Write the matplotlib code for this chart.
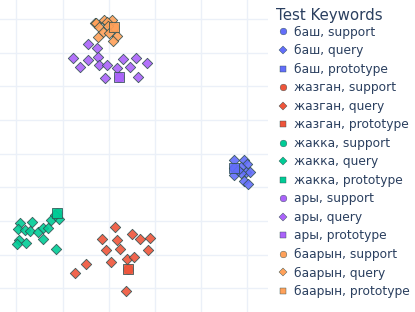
import matplotlib.pyplot as plt
from matplotlib.lines import Line2D

# keywords and plotly colours
keywords = ["баш", "жазган", "жакка", "ары", "баарын"]
colors = ["#636EFA", "#EF553B", "#00CC96", "#AB63FA", "#FFA15A"]

# query embeddings (2d projection), one list per keyword
qx = [
    [27.12, 29.29, 30.0, 27.12, 28.57, 29.72, 30.58, 27.19, 28.70, 29.29, 30.22, 28.05],
    [1.36, -1.39, 1.73, 5.11, 6.84, 8.94, -0.58, 2.51, 8.57, 0.50, 3.90, 5.48, -4.85, -7.29, 3.68],
    [-19.20, -16.67, -19.57, -18.12, -17.03, -15.24, -14.16, -13.20, -12.49, -10.76, -14.29,
     -19.42, -19.78, -17.97, -11.47, -11.62],
    [-4.42, -2.60, -7.66, -4.48, -2.38, -2.16, -0.43, -6.15, 3.03, 5.84, 8.29, 1.73, 4.61,
     -0.87, 6.28],
    [-2.97, -2.75, -1.02, 0.65, -0.43, -2.03, -0.22, -1.30, 0.13, -2.38, 1.73, 1.00],
]
qy = [
    [-1.96, -1.96, -3.07, -4.17, -3.87, -5.54, -5.54, -6.34, -5.83, -8.13, -9.11, -4.85],
    [-21.82, -25.30, -25.60, -23.90, -25.48, -25.00, -28.66, -28.27, -28.66, -32.23, -31.43,
     -30.83, -32.83, -35.42, -40.95],
    [-20.71, -20.24, -22.41, -22.71, -22.92, -23.39, -22.02, -22.20, -19.73, -19.43, -25.39,
     -25.68, -26.96, -26.49, -28.36, -18.24],
    [32.6, 31.5, 28.6, 27.9, 28.7, 26.3, 26.5, 25.8, 28.2, 28.6, 27.0, 25.6, 25.8, 22.5, 22.8],
    [39.0, 38.8, 39.8, 39.8, 39.3, 37.8, 38.0, 36.3, 35.8, 34.8, 35.0, 33.5],
]
# support points (1-shot) and prototypes
sx = [27.19, 4.24, -11.26, 2.29, 1.21]
sy = [-4.17, -34.32, -17.74, 22.9, 37.8]
px = [27.19, 4.24, -11.26, 2.29, 1.21]
py = [-4.17, -34.32, -17.74, 22.9, 37.8]

W, H = 415, 312
fig = plt.figure(figsize=(W / 100, H / 100), dpi=100)
ax = fig.add_axes([0, 0, 268 / W, 1])
edge = "#2F4F4F"
handles = []
for i, kw in enumerate(keywords):
    c = colors[i]
    ax.scatter([sx[i]], [sy[i]], marker="o", s=40, c=c, edgecolors=edge, linewidths=0.6,
               alpha=0.9, zorder=3)
    ax.scatter(qx[i], qy[i], marker="D", s=28, c=c, edgecolors=edge, linewidths=0.6,
               alpha=0.9, zorder=3)
    ax.scatter([px[i]], [py[i]], marker="s", s=45, c=c, edgecolors=edge, linewidths=0.6,
               alpha=0.9, zorder=4)
    handles.append(Line2D([], [], ls="", marker="o", ms=4.8, mfc=c, mec=edge, mew=0.3))
    handles.append(Line2D([], [], ls="", marker="D", ms=4.4, mfc=c, mec=edge, mew=0.3))
    handles.append(Line2D([], [], ls="", marker="s", ms=4.8, mfc=c, mec=edge, mew=0.3))

labels = []
for kw in keywords:
    labels += [kw + ", support", kw + ", query", kw + ", prototype"]

ax.set_xlim(-23.53, 34.48)
ax.set_ylim(-47.11, 45.74)
ax.set_xticks([-20, -10, 0, 10, 20, 30])
ax.set_yticks([-40, -30, -20, -10, 0, 10, 20, 30, 40])
ax.grid(True, color="#EBF0F8", lw=1)
ax.set_axisbelow(True)
ax.tick_params(length=0, labelbottom=False, labelleft=False)
for s in ax.spines.values():
    s.set_visible(False)

txt = "#2a3f5f"
fig.text(276 / W, 1 - 15.5 / H, "Test Keywords", fontsize=10.8, color=txt,
         ha="left", va="center")
fig.legend(handles, labels, loc="upper left", bbox_to_anchor=(278.3 / W, 1 - 25.6 / H),
           frameon=False, fontsize=8.8, labelcolor=txt, handlelength=0.8,
           handletextpad=0.46, labelspacing=0.45, borderpad=0, borderaxespad=0)

fig.savefig("out.png", dpi=100)
